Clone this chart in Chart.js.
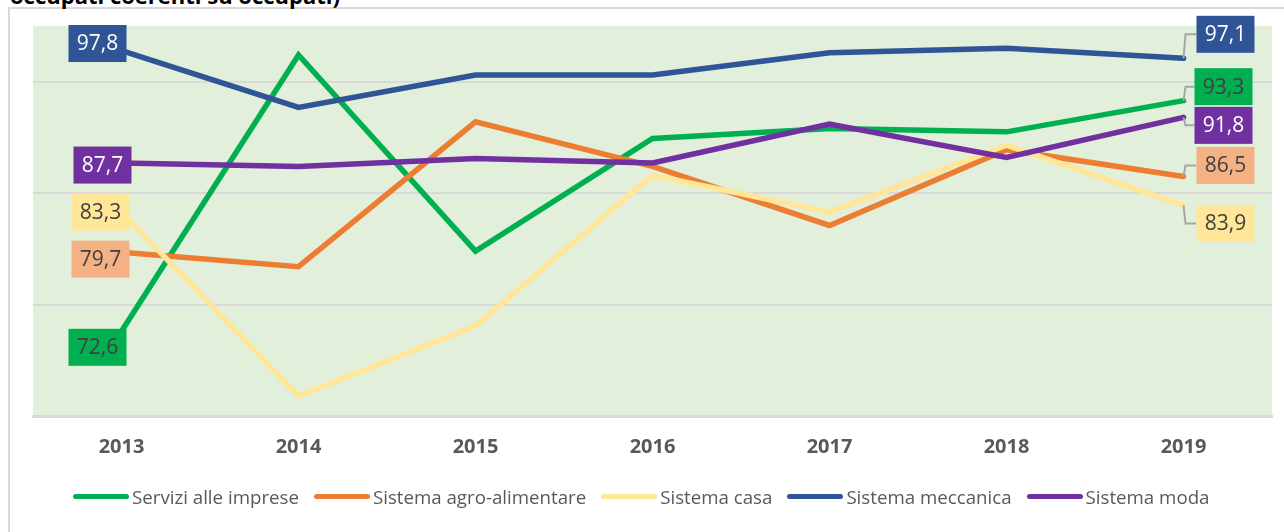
<!DOCTYPE html>
<html lang="it">
<head>
  <meta charset="UTF-8" />
  <title>Occupati coerenti su occupati</title>
  <script src="https://cdn.jsdelivr.net/npm/chart.js"></script>
  <style>
    html, body { margin: 0; padding: 0; background: #fff; }
    body { width: 1284px; height: 532px; position: relative; overflow: hidden; font-family: "Open Sans", sans-serif; }
    #frame { position: absolute; left: 8px; top: 7px; width: 1300px; height: 600px; border-left: 2px solid #d9d9d9; border-top: 2px solid #d9d9d9; }
    #title { position: absolute; left: 10px; top: -20px; font-weight: bold; font-size: 22px; color: #000; white-space: nowrap; }
    #wrap { position: absolute; left: 0; top: 0; width: 1284px; height: 532px; }
    #legend { position: absolute; left: 73px; top: 484px; display: flex; align-items: center; font-size: 18.7px; color: #595959; white-space: nowrap; }
    .item { display: flex; align-items: center; margin-right: 15px; }
    .sw { display: inline-block; width: 56px; height: 5px; border-radius: 3px; margin-right: 3px; }
  </style>
</head>
<body>
  <div id="frame"></div>
  <div id="title">occupati coerenti su occupati)</div>
  <div id="wrap"><canvas id="chart" width="1284" height="532"></canvas></div>
  <div id="legend"></div>

  <script>
    const years = ["2013", "2014", "2015", "2016", "2017", "2018", "2019"];
    const servizi = [72.6, 97.4, 79.8, 89.9, 90.8, 90.5, 93.3];
    const agro = [79.7, 78.4, 91.4, 87.4, 82.1, 88.9, 86.5];
    const casa = [83.3, 66.8, 73.1, 86.6, 83.3, 89.3, 83.9];
    const meccanica = [97.8, 92.7, 95.6, 95.6, 97.6, 98.0, 97.1];
    const moda = [87.7, 87.4, 88.1, 87.7, 91.2, 88.2, 91.8];
    const gridValues = [65, 75, 85, 95];

    // colore linea, sfondo etichetta, colore testo, spostamento etichette [dx, dy]
    const series = [
      { label: "Servizi alle imprese", data: servizi, color: "#00b050", box: "#00b050", text: "#404040", order: 5, left: [-24, 16], right: [40, -14] },
      { label: "Sistema agro-alimentare", data: agro, color: "#ed7d31", box: "#f4b183", text: "#404040", order: 4, left: [-21, 7], right: [42, -11] },
      { label: "Sistema casa", data: casa, color: "#ffe699", box: "#ffe699", text: "#404040", order: 3, left: [-21, 0], right: [42, 18] },
      { label: "Sistema meccanica", data: meccanica, color: "#2f5597", box: "#2f5597", text: "#ffffff", order: 2, left: [-24, -7], right: [42, -24] },
      { label: "Sistema moda", data: moda, color: "#7030a0", box: "#7030a0", text: "#ffffff", order: 1, left: [-19, 2], right: [40, 8] }
    ];

    const fmt = v => v.toFixed(1).replace(".", ",");

    const bgPlugin = {
      id: "bg",
      beforeDraw(chart) {
        const { ctx, chartArea: a } = chart;
        ctx.save();
        ctx.fillStyle = "#e2efda";
        ctx.fillRect(a.left, a.top, a.right - a.left, a.bottom - a.top);
        ctx.restore();
      }
    };

    const labelPlugin = {
      id: "endLabels",
      afterDatasetsDraw(chart) {
        const ctx = chart.ctx;
        const w = 58, h = 37;
        ctx.save();
        ctx.font = "21px 'Open Sans'";
        ctx.textAlign = "center";
        ctx.textBaseline = "middle";
        series.forEach((s, i) => {
          const pts = chart.getDatasetMeta(i).data;
          const first = pts[0], last = pts[pts.length - 1];
          // etichetta sinistra
          let cx = first.x + s.left[0], cy = first.y + s.left[1];
          ctx.fillStyle = s.box;
          ctx.fillRect(cx - w / 2, cy - h / 2, w, h);
          ctx.fillStyle = s.text;
          ctx.fillText(fmt(s.data[0]), cx, cy + 1);
          // etichetta destra con linea guida
          cx = last.x + s.right[0]; cy = last.y + s.right[1];
          ctx.strokeStyle = "#a6a6a6";
          ctx.lineWidth = 2;
          ctx.beginPath();
          ctx.moveTo(last.x, last.y);
          ctx.lineTo(last.x + 2, cy);
          ctx.lineTo(cx - w / 2, cy);
          ctx.stroke();
          ctx.fillStyle = s.box;
          ctx.fillRect(cx - w / 2, cy - h / 2, w, h);
          ctx.fillStyle = s.text;
          ctx.fillText(fmt(s.data[s.data.length - 1]), cx, cy + 1);
        });
        ctx.restore();
      }
    };

    new Chart(document.getElementById("chart"), {
      type: "line",
      data: {
        labels: years,
        datasets: series.map(s => ({
          label: s.label,
          data: s.data,
          borderColor: s.color,
          backgroundColor: s.color,
          borderWidth: 5.5,
          borderCapStyle: "round",
          pointRadius: 0,
          tension: 0,
          order: s.order
        }))
      },
      options: {
        responsive: false,
        animation: false,
        layout: { padding: { left: 33, right: 12, top: 26, bottom: 54 } },
        plugins: { legend: { display: false }, tooltip: { enabled: false } },
        scales: {
          x: {
            offset: true,
            grid: { display: false, drawTicks: false },
            border: { display: true, color: "#d9d9d9", width: 3 },
            ticks: { padding: 19, color: "#595959", font: { family: "Open Sans", size: 20, weight: "bold" } }
          },
          y: {
            min: 65,
            max: 100,
            afterBuildTicks: scale => { scale.ticks = gridValues.map(v => ({ value: v })); },
            grid: { color: "#d9d9d9", lineWidth: 2, drawTicks: false },
            border: { display: false },
            ticks: { display: false }
          }
        }
      },
      plugins: [bgPlugin, labelPlugin]
    });

    const legend = document.getElementById("legend");
    series.forEach(s => {
      const item = document.createElement("div");
      item.className = "item";
      item.innerHTML = `<span class="sw" style="background:${s.color}"></span><span>${s.label}</span>`;
      legend.appendChild(item);
    });
  </script>
</body>
</html>
